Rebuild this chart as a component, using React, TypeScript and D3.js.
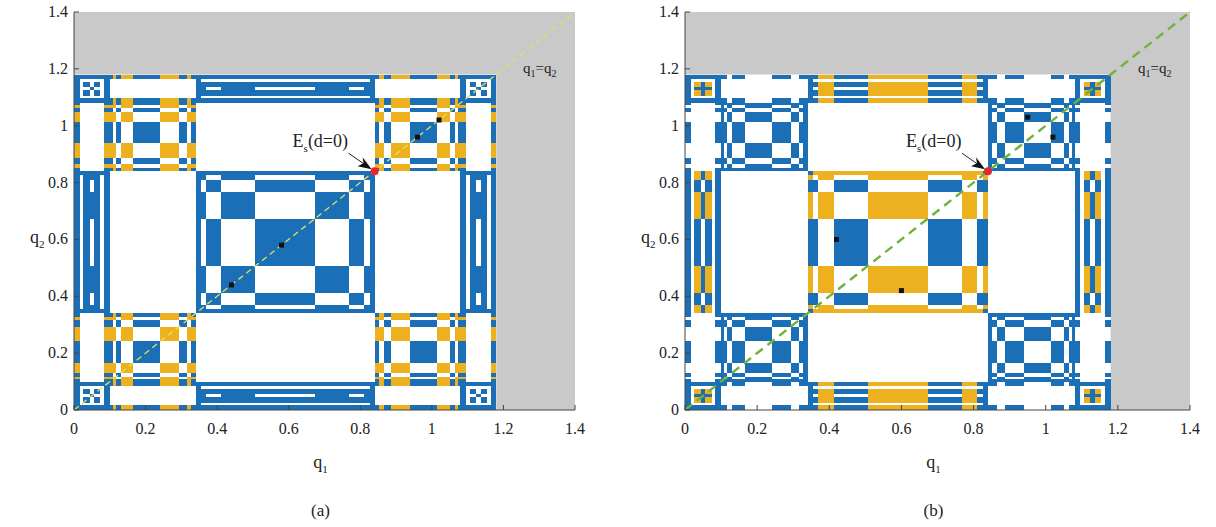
import React from "react";
import * as d3 from "d3";

const W = 1216;
const H = 527;

const TICKS = [0, 0.2, 0.4, 0.6, 0.8, 1, 1.2, 1.4];
const TICK_LABELS = ["0", "0.2", "0.4", "0.6", "0.8", "1", "1.2", "1.4"];

// extent of the coloured square, in q units
const SQUARE_END = 1.18;
const SQUARE_MID = 0.59;

// top-level blocks along each axis
const BLOCK_STARTS = [0, 0.1, 0.34, 0.84, 1.08];
const BLOCK_ENDS = [0.1, 0.34, 0.84, 1.08, 1.18];
const BLOCK_GROUPS = ["A", "B", "C", "B", "A"];

// inner cuts of each block type, measured from the block edge facing away from the
// middle of the square (q units), and their symbols
// F = frame, 1 / 0 = alternating parity, t = thin gap
const CUTS_A = [0, 0.006, 0.016, 0.026, 0.044, 0.056, 0.074, 0.084, 0.094, 0.1];
const SYMS_A = ["F", "F", "t", "1", "0", "1", "t", "F", "F"];
const CUTS_B = [0, 0.008, 0.016, 0.03, 0.066, 0.141, 0.193, 0.215, 0.228, 0.24];
const SYMS_B = ["F", "1", "0", "1", "0", "1", "0", "1", "F"];
const CUTS_C = [0, 0.014, 0.03, 0.072, 0.167, 0.333, 0.428, 0.47, 0.486, 0.5];
const SYMS_C = ["F", "1", "0", "1", "0", "1", "0", "1", "F"];

// colour tables per (x-group, y-group): rows are y symbol F,1,0,t; columns x symbol F,1,0,t
// b = blue, o = orange, w = white
const RULES_A: Record<string, string[]> = {
  CC: ["bbbw", "bbww", "bwbw", "wwww"],
  BB: ["bobw", "ooww", "bwbw", "wwww"],
  AA: ["bbbb", "bbww", "bwbw", "bwww"],
  AC: ["bbbb", "bbbw", "bbww", "wwww"],
  CA: ["bbbw", "bbbw", "bbww", "bwww"],
  AB: ["bwww", "owww", "bwww", "wwww"],
  BA: ["bobw", "wwww", "wwww", "wwww"],
  BC: ["wwww", "wwww", "wwww", "wwww"],
  CB: ["wwww", "wwww", "wwww", "wwww"],
};
const RULES_B: Record<string, string[]> = {
  CC: ["boow", "owow", "bbww", "wwww"],
  BB: ["bbbw", "bwbw", "bbww", "wwww"],
  AA: ["bbbb", "bobw", "bbbw", "bwww"],
  AC: ["bobw", "bobw", "bbww", "wwww"],
  CA: ["bbow", "bbow", "bwow", "bwww"],
  AB: ["bwww", "wwww", "bwww", "wwww"],
  BA: ["bbww", "wwww", "wwww", "wwww"],
  BC: ["wwww", "wwww", "wwww", "wwww"],
  CB: ["wwww", "wwww", "wwww", "wwww"],
};

// black markers and the red equilibrium point
const MARKS_A_Q1 = [0.44, 0.58, 0.96, 1.02];
const MARKS_A_Q2 = [0.44, 0.58, 0.96, 1.02];
const MARKS_B_Q1 = [0.42, 0.6, 0.95, 1.02];
const MARKS_B_Q2 = [0.6, 0.42, 1.03, 0.96];
const EQ_POINT = [0.84, 0.84];

const BLUE = "#1a6fb6";
const ORANGE = "#edb120";
const GRAY = "#c9c9c9";
const FONT = "'Liberation Serif', 'DejaVu Serif', serif";

const CUTS: Record<string, number[]> = { A: CUTS_A, B: CUTS_B, C: CUTS_C };
const SYMS: Record<string, string[]> = { A: SYMS_A, B: SYMS_B, C: SYMS_C };
const SYM_INDEX: Record<string, number> = { F: 0, "1": 1, "0": 2, t: 3 };

type Seg = { s0: number; s1: number; g: string; sym: string };

function buildSegments(): Seg[] {
  const segs: Seg[] = [];
  BLOCK_STARTS.forEach((start, i) => {
    const end = BLOCK_ENDS[i];
    const g = BLOCK_GROUPS[i];
    const c = CUTS[g];
    const mirrored = start >= SQUARE_MID;
    for (let k = 0; k < c.length - 1; k++) {
      const s0 = mirrored ? end - c[k + 1] : start + c[k];
      const s1 = mirrored ? end - c[k] : start + c[k + 1];
      segs.push({ s0, s1, g, sym: SYMS[g][k] });
    }
  });
  return segs;
}

const SEGMENTS = buildSegments();

function colourOf(rules: Record<string, string[]>, sx: Seg, sy: Seg): string | null {
  const t = rules[sx.g + sy.g];
  const ch = t[SYM_INDEX[sy.sym]][SYM_INDEX[sx.sym]];
  if (ch === "b") return BLUE;
  if (ch === "o") return ORANGE;
  return null;
}

type PanelProps = {
  x0: number;
  x1: number;
  rules: Record<string, string[]>;
  marksQ1: number[];
  marksQ2: number[];
  lineColor: string;
  lineWidth: number;
  dash: string;
  tag: string;
};

function Panel({ x0, x1, rules, marksQ1, marksQ2, lineColor, lineWidth, dash, tag }: PanelProps) {
  const x = d3.scaleLinear().domain([0, 1.4]).range([x0, x1]);
  const y = d3.scaleLinear().domain([0, 1.4]).range([410, 12]);
  const cells: React.ReactNode[] = [];
  SEGMENTS.forEach((sx, i) => {
    SEGMENTS.forEach((sy, j) => {
      const col = colourOf(rules, sx, sy);
      if (!col) return;
      cells.push(
        <rect
          key={`${i}-${j}`}
          x={x(sx.s0)}
          y={y(sy.s1)}
          width={x(sx.s1) - x(sx.s0)}
          height={y(sy.s0) - y(sy.s1)}
          fill={col}
        />
      );
    });
  });
  const cx = (x0 + x1) / 2 - 4;
  const ex = x(EQ_POINT[0]);
  const ey = y(EQ_POINT[1]);
  return (
    <g>
      <rect x={x(0)} y={y(1.4)} width={x(1.4) - x(0)} height={y(0) - y(1.4)} fill={GRAY} />
      <rect
        x={x(0)}
        y={y(SQUARE_END)}
        width={x(SQUARE_END) - x(0)}
        height={y(0) - y(SQUARE_END)}
        fill="#ffffff"
      />
      <g shapeRendering="crispEdges">{cells}</g>
      <line
        x1={x(0)}
        y1={y(0)}
        x2={x(1.4)}
        y2={y(1.4)}
        stroke={lineColor}
        strokeWidth={lineWidth}
        strokeDasharray={dash}
      />
      {marksQ1.map((q, i) => (
        <rect key={i} x={x(q) - 2.5} y={y(marksQ2[i]) - 2.5} width={5} height={5} fill="#111" />
      ))}
      <circle cx={ex} cy={ey} r={4} fill="#e8262e" />
      {/* annotation arrow */}
      <line x1={ex - 26} y1={ey - 18} x2={ex - 6} y2={ey - 4} stroke="#222" strokeWidth={1} />
      <path
        d={`M${ex - 3},${ey - 2} L${ex - 17},${ey - 5} L${ex - 11},${ey - 8} L${ex - 12},${ey - 14} Z`}
        fill="#111"
      />
      <text x={ex - 82} y={ey - 24} fontFamily={FONT} fontSize={18} fill="#222">
        E<tspan fontSize={11} dy={5}>s</tspan>
        <tspan dy={-5}>(d=0)</tspan>
      </text>
      <text x={x(1.4) - 52} y={73} fontFamily={FONT} fontSize={15} fill="#222">
        q<tspan fontSize={10} dy={4}>1</tspan>
        <tspan dy={-4}>=q</tspan>
        <tspan fontSize={10} dy={4}>2</tspan>
      </text>
      {/* axes */}
      <line x1={x(0)} y1={y(0)} x2={x(1.4)} y2={y(0)} stroke="#444" strokeWidth={1} />
      <line x1={x(0)} y1={y(0)} x2={x(0)} y2={y(1.4)} stroke="#444" strokeWidth={1} />
      {TICKS.map((t, i) => (
        <g key={`t${i}`}>
          <line x1={x(t)} y1={y(0)} x2={x(t)} y2={y(0) - 5} stroke="#444" />
          <line x1={x(0)} y1={y(t)} x2={x(0) + 5} y2={y(t)} stroke="#444" />
          <text
            x={x(t)}
            y={y(0) + 24}
            textAnchor="middle"
            fontFamily={FONT}
            fontSize={16}
            fill="#222"
          >
            {TICK_LABELS[i]}
          </text>
          <text
            x={x(0) - 6}
            y={y(t) + 5}
            textAnchor="end"
            fontFamily={FONT}
            fontSize={16}
            fill="#222"
          >
            {TICK_LABELS[i]}
          </text>
        </g>
      ))}
      <text x={cx} y={468} fontFamily={FONT} fontSize={18} fill="#222" textAnchor="middle">
        q<tspan fontSize={11} dy={5}>1</tspan>
      </text>
      <text x={x0 - 44} y={243} fontFamily={FONT} fontSize={18} fill="#222">
        q<tspan fontSize={11} dy={5}>2</tspan>
      </text>
      <text x={cx} y={516} fontFamily={FONT} fontSize={17} fill="#222" textAnchor="middle">
        {tag}
      </text>
    </g>
  );
}

export default function App() {
  return (
    <svg
      width={W}
      height={H}
      style={{ position: "absolute", left: 0, top: 0, background: "#fff" }}
    >
      <Panel
        x0={74}
        x1={575}
        rules={RULES_A}
        marksQ1={MARKS_A_Q1}
        marksQ2={MARKS_A_Q2}
        lineColor="#dfe35a"
        lineWidth={1.3}
        dash="6,4"
        tag="(a)"
      />
      <Panel
        x0={685}
        x1={1190}
        rules={RULES_B}
        marksQ1={MARKS_B_Q1}
        marksQ2={MARKS_B_Q2}
        lineColor="#6fb23a"
        lineWidth={2.4}
        dash="9,6"
        tag="(b)"
      />
    </svg>
  );
}
